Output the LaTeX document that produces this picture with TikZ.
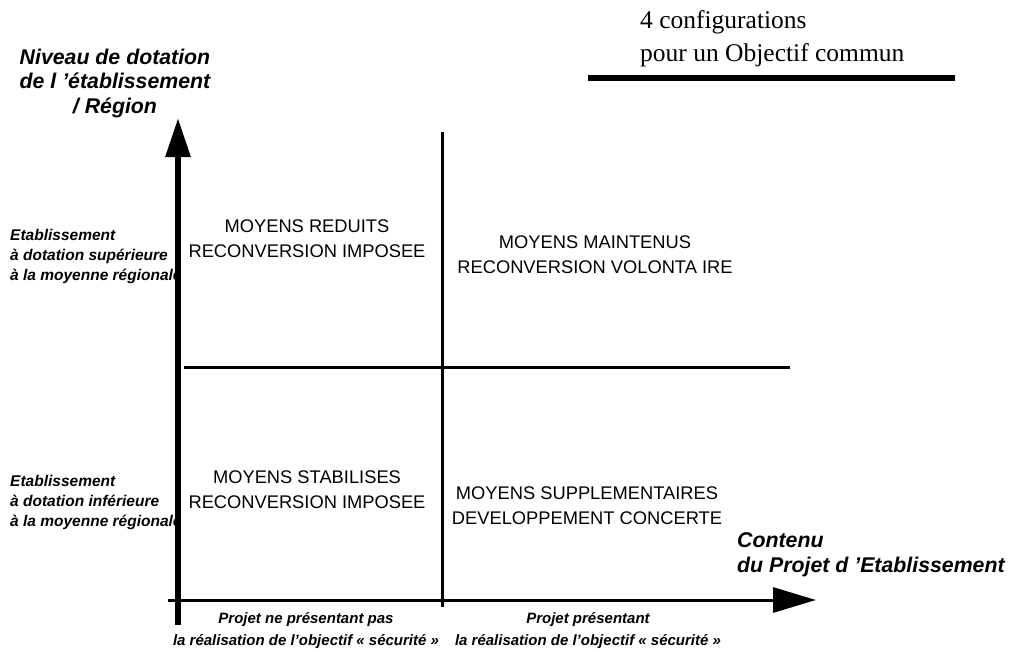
\documentclass[tikz,border=0pt]{standalone}
\usepackage{fontspec}
\setmainfont{Liberation Serif}
\setsansfont{Liberation Sans}
\usetikzlibrary{arrows.meta,positioning}

\begin{document}
\begin{tikzpicture}[
        x=1pt, y=-1pt,
        quad/.style={align=center, inner sep=0pt, font=\sffamily\fontsize{18.3}{25}\selectfont},
        axlbl/.style={inner sep=0pt, font=\sffamily\bfseries\itshape\fontsize{21.3}{24.5}\selectfont},
        sidelbl/.style={align=left, inner sep=0pt, font=\sffamily\bfseries\itshape\fontsize{15.5}{20}\selectfont},
        botlbl/.style={align=center, inner sep=0pt, font=\sffamily\bfseries\itshape\fontsize{15}{22}\selectfont},
        sep/.style={line width=3pt}
    ]
    \useasboundingbox (0,0) rectangle (1009,651);

    % Axes
    \coordinate (ybot) at (178,625);
    \coordinate (ytop) at (178,118);
    \coordinate (xlft) at (168,600);
    \coordinate (xrgt) at (816,600);
    \draw[line width=6pt, -{Triangle[length=39pt,width=24pt]}] (ybot) -- (ytop);
    \draw[line width=3pt, -{Triangle[length=43pt,width=25pt]}] (xlft) -- (xrgt);

    % Quadrant separators
    \coordinate (vtop) at (442,132);
    \coordinate (vbot) at (442,607);
    \coordinate (hlft) at (184,367);
    \coordinate (hrgt) at (790,367);
    \draw[sep] (vtop) -- (vbot);
    \draw[sep] (hlft) -- (hrgt);

    % Title
    \node[align=left, inner sep=0pt, anchor=west, font=\fontsize{25.5}{33}\selectfont] (title) at (640,39) {4 configurations\\pour un Objectif commun};
    \coordinate (rl) at (588,78);
    \coordinate (rr) at (955,78);
    \draw[line width=6pt] (rl) -- (rr);

    % Axis titles
    \node[axlbl, align=center] (ylbl) at (115,83) {Niveau de dotation\\de l ’établissement\\/ Région};
    \node[axlbl, align=left, anchor=west] (xlbl) at (737,555) {Contenu\\du Projet d ’Etablissement};

    % Row labels
    \node[sidelbl, anchor=west] (sup) at (10,256) {Etablissement\\à dotation supérieure\\à la moyenne régionale};
    \node[sidelbl, anchor=west] (inf) at (10,502) {Etablissement\\à dotation inférieure\\à la moyenne régionale};

    % Column labels
    \node[botlbl] (nosec) at (306,631) {Projet ne présentant pas\\la réalisation de l’objectif « sécurité »};
    \node[botlbl] (sec) at (588,631) {Projet présentant\\la réalisation de l’objectif « sécurité »};

    % Quadrants
    \node[quad] (q1) at (307,239) {MOYENS REDUITS\\RECONVERSION IMPOSEE};
    \node[quad] (q2) at (595,255) {MOYENS MAINTENUS\\RECONVERSION VOLONTA IRE};
    \node[quad] (q3) at (307,490) {MOYENS STABILISES\\RECONVERSION IMPOSEE};
    \node[quad] (q4) at (587,506) {MOYENS SUPPLEMENTAIRES\\DEVELOPPEMENT CONCERTE};

\end{tikzpicture}
\end{document}
